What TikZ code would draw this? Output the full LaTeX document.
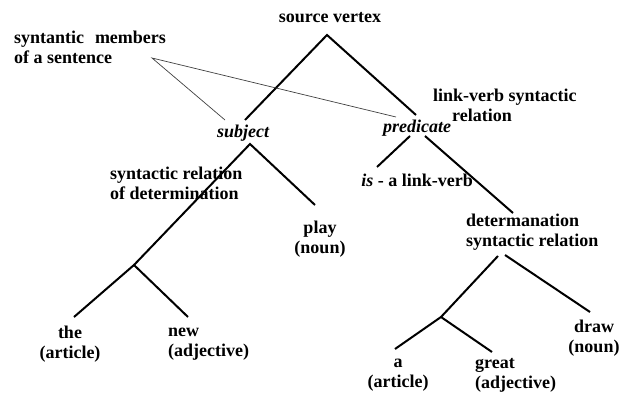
\documentclass[tikz,border=0pt]{standalone}
\usepackage{fontspec}
\setmainfont{Liberation Serif}
\begin{document}
\begin{tikzpicture}[x=1pt,y=-1pt,
  lbl/.style={font=\fontsize{18}{20}\selectfont\bfseries, inner sep=0pt},
  itlbl/.style={lbl, font=\fontsize{18}{20}\selectfont\bfseries\itshape},
  branch/.style={line width=2pt},
  pointer/.style={line width=0.7pt, draw=black!75}]
\useasboundingbox (0,0) rectangle (629,396);

% labels
\node[lbl] (src) at (330,18) {source vertex};
\node[lbl, align=left, anchor=west] (members) at (14,47) {syntantic\hspace{0.6em}members\\of a sentence};
\node[itlbl] (subj) at (243,133) {subject};
\node[itlbl] (pred) at (417,128) {predicate};
\node[lbl, align=left, anchor=west] (lvrel) at (433,105) {link-verb syntactic\\\hspace*{19pt}relation};
\node[lbl, align=left, anchor=west] (detrel) at (110,183) {syntactic relation\\of determination};
\node[lbl, align=center] (play) at (320,239) {play\\(noun)};
\node[lbl] (isv) at (417,180) {\textit{is} - a link-verb};
\node[lbl, align=left, anchor=west] (detrel2) at (466,232) {determanation\\syntactic relation};
\node[lbl, align=center] (the) at (70,344) {the\\(article)};
\node[lbl, align=left, anchor=west] (new) at (168,344) {new\\(adjective)};
\node[lbl, align=center] (a) at (398,375) {a\\(article)};
\node[lbl, align=left, anchor=west] (great) at (475,375) {great\\(adjective)};
\node[lbl, align=center] (drawn) at (594,338) {draw\\(noun)};

% branch points and ends
\coordinate (srcTop) at (327,35);
\coordinate (subjTop) at (245,120);
\coordinate (predTop) at (416,115);
\coordinate (memTip) at (152,58);
\coordinate (subjPtr) at (225,120);
\coordinate (predPtr) at (396,117);
\coordinate (subjFork) at (250,144);
\coordinate (detJoin) at (134,265);
\coordinate (playEnd) at (315,205);
\coordinate (theEnd) at (74,317);
\coordinate (newEnd) at (188,317);
\coordinate (predForkL) at (410,136);
\coordinate (predForkR) at (425,136);
\coordinate (isEnd) at (377,167);
\coordinate (detEnd) at (513,213);
\coordinate (detForkL) at (498,256);
\coordinate (detForkR) at (505,255);
\coordinate (aJoin) at (441,317);
\coordinate (drawEnd) at (590,312);
\coordinate (aEnd) at (395,349);
\coordinate (greatEnd) at (492,352);

% tree edges
\draw[branch] (subjTop) -- (srcTop) -- (predTop);
\draw[branch] (detJoin) -- (subjFork) -- (playEnd);
\draw[branch] (theEnd) -- (detJoin) -- (newEnd);
\draw[branch] (isEnd) -- (predForkL);
\draw[branch] (predForkR) -- (detEnd);
\draw[branch] (aJoin) -- (detForkL);
\draw[branch] (detForkR) -- (drawEnd);
\draw[branch] (aEnd) -- (aJoin) -- (greatEnd);

% pointers from the caption
\draw[pointer] (subjPtr) -- (memTip) -- (predPtr);
\end{tikzpicture}
\end{document}
